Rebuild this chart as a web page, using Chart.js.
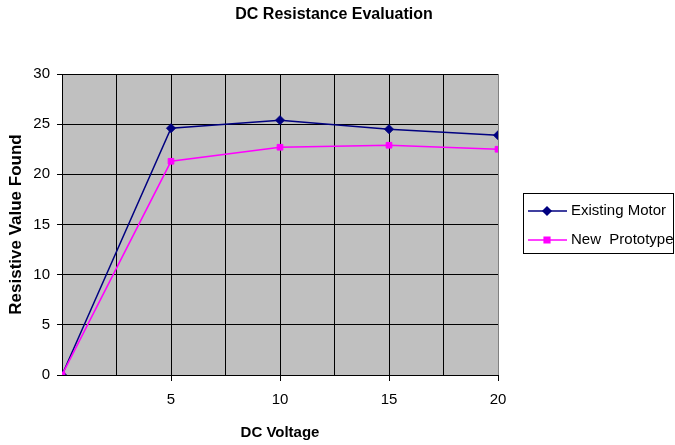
<!DOCTYPE html>
<html>
<head>
<meta charset="utf-8">
<script src="https://cdn.jsdelivr.net/npm/chart.js@4/dist/chart.umd.min.js"></script>
<style>
  html, body { margin: 0; padding: 0; background: #fff; }
  #wrap { width: 675px; height: 445px; }
</style>
</head>
<body>
<div id="wrap"><canvas id="chart" width="675" height="445"></canvas></div>
<script>
// 数据
const voltages = [0, 5, 10, 15, 20];
const existingMotor = [0, 24.6, 25.4, 24.5, 23.9];
const newPrototype = [0, 21.3, 22.7, 22.9, 22.5];
const seriesNames = ['Existing Motor', 'New  Prototype'];
const xTickLabels = [5, 10, 15, 20];

const FONT = "'Liberation Sans', Arial, sans-serif";
const NAVY = '#000080';
const MAGENTA = '#FF00FF';

// 灰色绘图区背景
const plotBackground = {
  id: 'plotBackground',
  beforeDraw(chart) {
    const { ctx, chartArea: a } = chart;
    ctx.save();
    ctx.fillStyle = '#C0C0C0';
    ctx.fillRect(a.left, a.top, a.right - a.left, a.bottom - a.top);
    ctx.restore();
  }
};

// 标题和图例（带线条和标记）
const titleAndLegend = {
  id: 'titleAndLegend',
  afterDraw(chart) {
    const ctx = chart.ctx;
    ctx.save();
    ctx.fillStyle = '#000';
    ctx.textAlign = 'center';
    ctx.textBaseline = 'middle';
    ctx.font = 'bold 16px ' + FONT;
    ctx.fillText('DC Resistance Evaluation', 334, 15);

    // 图例框
    ctx.strokeStyle = '#000';
    ctx.lineWidth = 1;
    ctx.strokeRect(523.5, 193.5, 150, 60);

    const rows = [
      { name: seriesNames[0], color: NAVY, style: 'rectRot', y: 211 },
      { name: seriesNames[1], color: MAGENTA, style: 'rect', y: 240 }
    ];
    ctx.font = '15px ' + FONT;
    ctx.textAlign = 'left';
    rows.forEach(r => {
      ctx.strokeStyle = r.color;
      ctx.lineWidth = 1.5;
      ctx.beginPath();
      ctx.moveTo(528, r.y);
      ctx.lineTo(567, r.y);
      ctx.stroke();
      Chart.helpers.drawPoint(ctx, { pointStyle: r.style, radius: 4, borderWidth: 1 }, 547, r.y);
      ctx.fillStyle = r.color;
      ctx.fill();
      ctx.fillStyle = '#000';
      ctx.fillText(r.name, 571, r.y);
    });
    ctx.restore();
  }
};

const isMajorX = v => Math.abs(v % 5) < 1e-6 && v !== 0;

new Chart(document.getElementById('chart'), {
  type: 'line',
  data: {
    datasets: [
      {
        label: seriesNames[0],
        data: voltages.map((v, i) => ({ x: v, y: existingMotor[i] })),
        borderColor: NAVY,
        backgroundColor: NAVY,
        borderWidth: 1.5,
        pointStyle: 'rectRot',
        pointRadius: 4.5,
        pointBorderWidth: 1,
        order: 1
      },
      {
        label: seriesNames[1],
        data: voltages.map((v, i) => ({ x: v, y: newPrototype[i] })),
        borderColor: MAGENTA,
        backgroundColor: MAGENTA,
        borderWidth: 1.5,
        pointStyle: 'rect',
        pointRadius: 4,
        pointBorderWidth: 1,
        order: 0
      }
    ]
  },
  options: {
    responsive: false,
    animation: false,
    layout: { padding: { top: 74, right: 177, bottom: 0, left: 0 } },
    plugins: {
      legend: { display: false },
      tooltip: { enabled: false },
      title: { display: false }
    },
    scales: {
      x: {
        type: 'linear',
        min: 0,
        max: 20,
        afterFit: s => { s.height = 70; },
        afterBuildTicks: s => {
          s.ticks = [];
          for (let v = 0; v <= 20; v += 2.5) s.ticks.push({ value: v });
        },
        border: { color: '#000', width: 1 },
        grid: {
          color: c => (c.tick && c.tick.value === 20 ? '#808080' : '#000'),
          lineWidth: 1,
          tickLength: 6,
          tickColor: c => (c.tick && isMajorX(c.tick.value) ? '#000' : 'rgba(0,0,0,0)')
        },
        ticks: {
          color: '#000',
          font: { family: FONT, size: 15 },
          padding: 10,
          maxRotation: 0,
          autoSkip: false,
          callback: v => (xTickLabels.includes(v) ? String(v) : '')
        },
        title: {
          display: true,
          text: 'DC Voltage',
          color: '#000',
          font: { family: FONT, size: 15, weight: 'bold' },
          padding: { top: 0, bottom: 3 }
        }
      },
      y: {
        min: 0,
        max: 30,
        afterFit: s => { s.width = 62; },
        border: { color: '#000', width: 1 },
        grid: {
          color: '#000',
          lineWidth: 1,
          tickLength: 5,
          tickColor: '#000'
        },
        ticks: {
          stepSize: 5,
          color: '#000',
          font: { family: FONT, size: 15 },
          padding: 7
        },
        title: {
          display: true,
          text: 'Resistive Value Found',
          color: '#000',
          font: { family: FONT, size: 17, weight: 'bold' },
          padding: { top: 6, bottom: 0 }
        }
      }
    }
  },
  plugins: [plotBackground, titleAndLegend]
});
</script>
</body>
</html>
